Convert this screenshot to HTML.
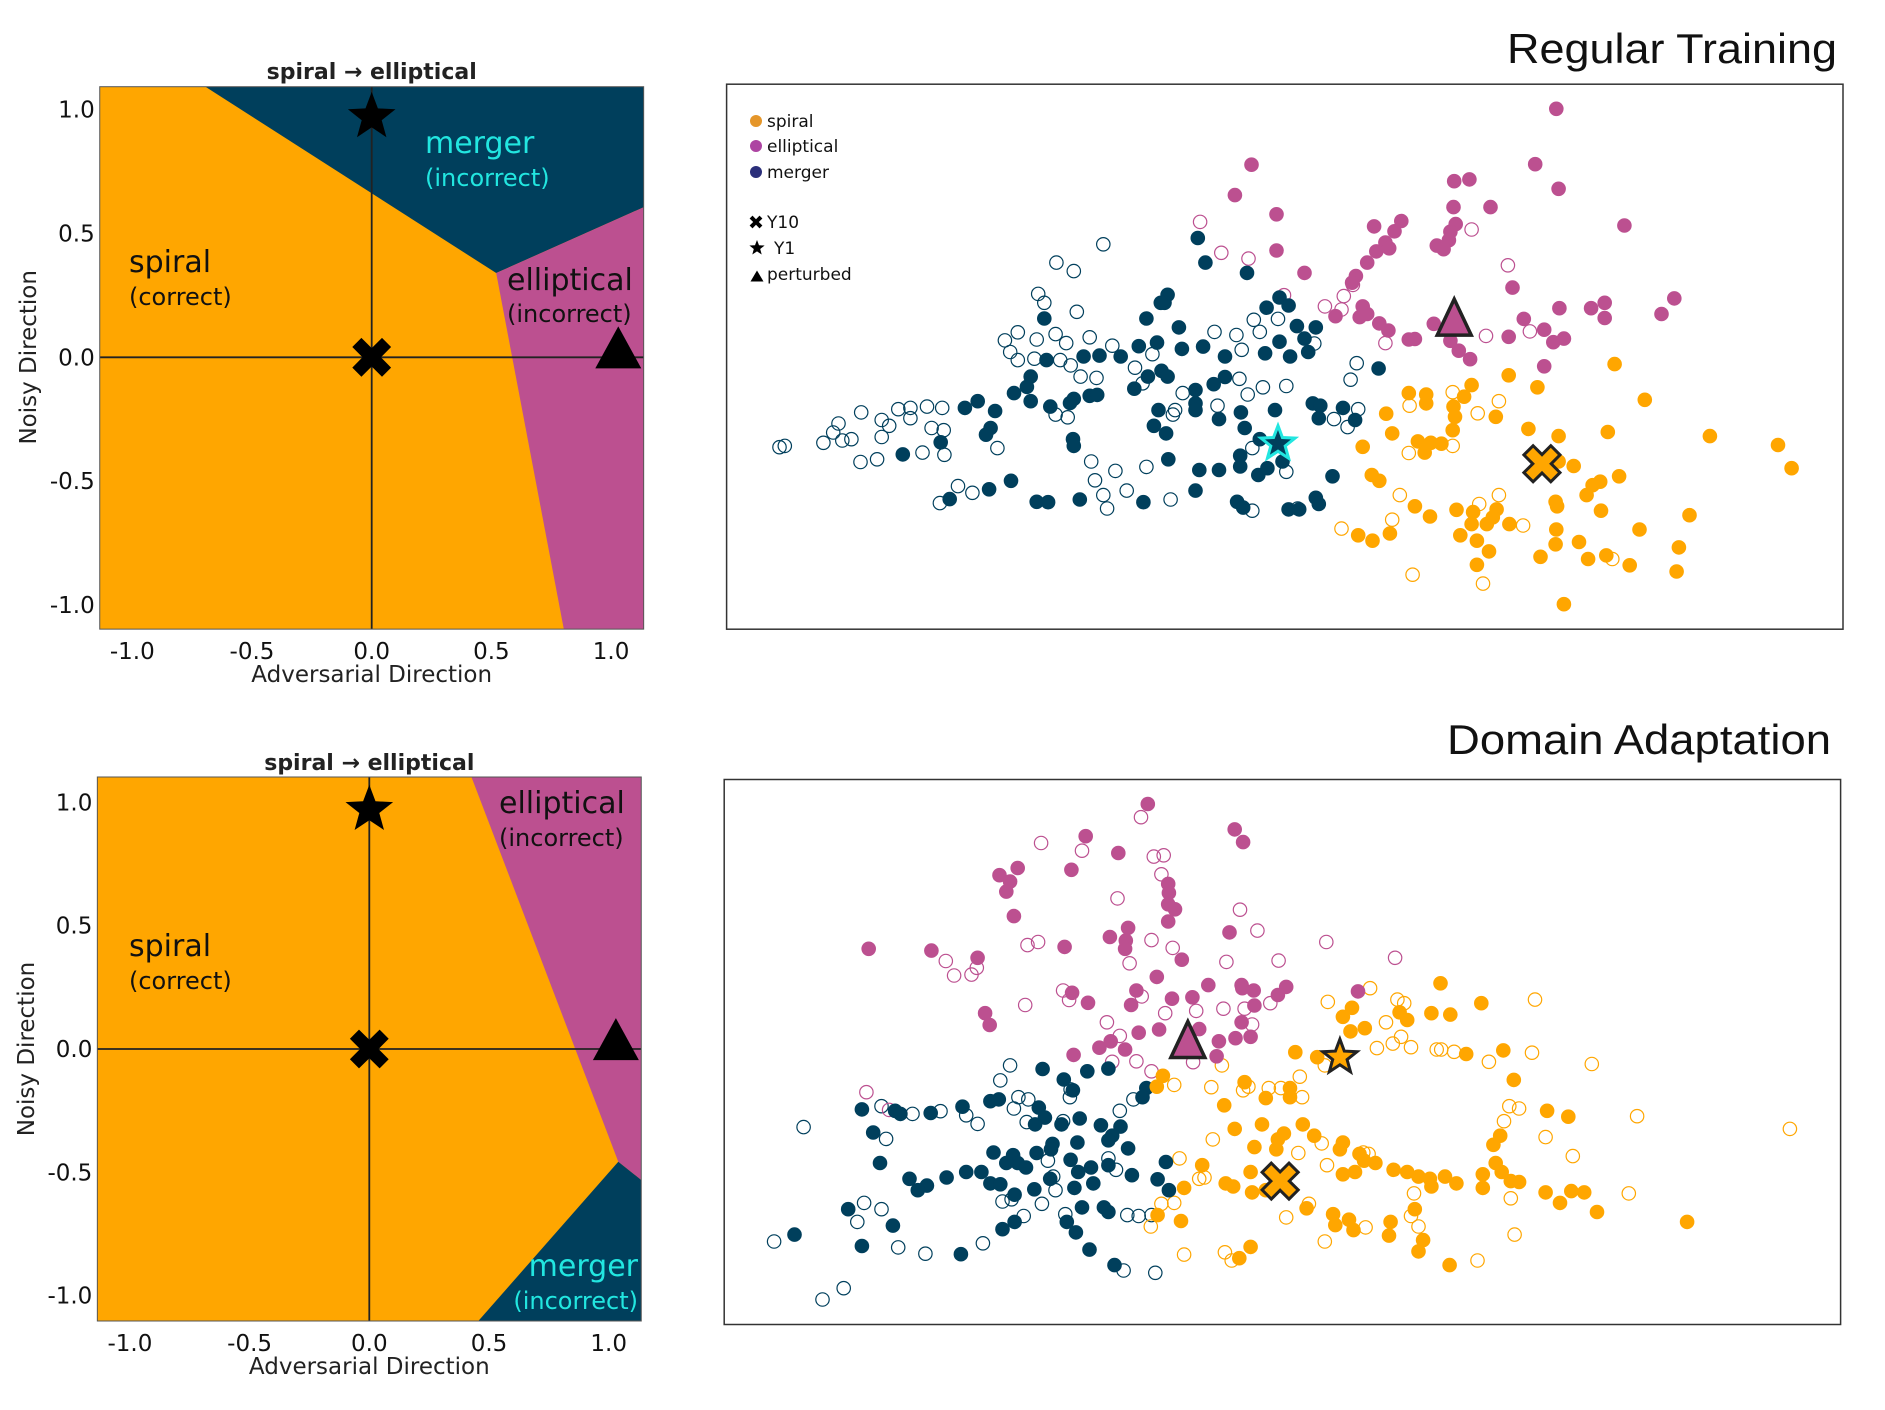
<!DOCTYPE html>
<html><head><meta charset="utf-8"><style>
html,body{margin:0;padding:0;background:#fff;}
svg{display:block;font-family:"DejaVu Sans","Liberation Sans",sans-serif;}
</style></head><body>
<svg id="fig" width="1885" height="1410" viewBox="0 0 1885 1410" xmlns="http://www.w3.org/2000/svg"></svg>
<script>
// ===== Decision region data (left panels, data coords) =====
const tlMergerRegion = [[-0.74,1.12],[1.16,1.12],[1.16,0.616],[0.52,0.34]];
const tlEllipRegion = [[0.52,0.34],[1.16,0.616],[1.16,-1.12],[0.807,-1.12]];
const blEllipRegion = [[0.42,1.12],[1.16,1.12],[1.16,-0.55],[1.04,-0.457]];
const blMergerRegion = [[1.04,-0.457],[1.16,-0.55],[1.16,-1.12],[0.44,-1.12]];
const leftTicks = [-1.0,-0.5,0.0,0.5,1.0];
const leftTickLabels = ["-1.0","-0.5","0.0","0.5","1.0"];
const tlStar=[0,0.97], tlX=[0,0], tlTri=[1.03,0.04];
const blStar=[0,0.97], blX=[0,0], blTri=[1.03,0.04];

// ===== Scatter data: Regular Training (embedding units) =====
const rtEllipFilled=[[1132,246],[729,371],[1104,370],[707,439],[997,408],[1017,404],[1135,425],[762,482],[996,466],[1045,466],[1222,507],[891,509],[927,497],[918,520],[999,504],[992,521],[990,540],[974,552],[983,560],[906,545],[894,565],[911,558],[882,590],[762,563],[799,613],[867,620],[862,635],[1074,646],[876,688],[840,710],[872,712],[882,705],[898,726],[910,742],[937,762],[945,761],[970,727],[992,765],[1003,787],[1018,806],[1069,756],[1089,716],[1116,740],[1128,768],[1142,760],[1116,822],[1136,692],[1178,692],[1196,680],[1196,714],[1271,705],[1288,670]];
const rtEllipOpen=[[661,499],[689,568],[725,581],[1020,516],[1068,596],[772,663],[826,688],[851,665],[863,640],[906,770],[1039,754],[1097,744],[848,695]];
const rtMergerFilled=[[658,535],[668,590],[723,613],[618,662],[614,680],[609,680],[455,715],[590,715],[633,735],[766,668],[778,686],[749,691],[789,732],[814,735],[799,760],[766,767],[804,790],[780,800],[747,793],[637,783],[665,778],[694,800],[580,777],[604,769],[556,800],[507,800],[458,808],[528,798],[897,827],[610,832],[618,845],[592,845],[574,872],[694,846],[679,862],[655,875],[437,845],[432,868],[415,882],[437,900],[463,912],[494,895],[515,888],[525,886],[489,904],[350,915],[367,900],[390,922],[384,960],[378,975],[606,920],[655,905],[655,920],[715,925],[760,920],[686,940],[810,905],[820,910],[818,938],[850,915],[866,942],[600,955],[616,972],[720,960],[740,985],[493,985],[494,1000],[318,992],[268,1019],[619,1030],[660,1054],[686,1054],[714,1022],[714,1046],[738,1065],[750,1050],[770,1035],[836,1068],[411,1078],[382,1097],[330,1119],[445,1125],[460,1126],[502,1120],[586,1126],[655,1100],[710,1125],[718,1138],[778,1142],[792,1142],[814,1116],[818,1130]];
const rtMergerOpen=[[533,549],[471,590],[494,609],[447,660],[455,680],[498,700],[403,764],[420,746],[445,762],[470,750],[484,770],[515,757],[545,776],[410,790],[420,808],[442,805],[476,808],[490,820],[503,845],[524,848],[575,825],[598,795],[638,882],[585,860],[713,850],[744,869],[775,866],[724,885],[684,910],[625,930],[628,920],[470,930],[486,936],[213,925],[262,918],[278,915],[300,912],[320,915],[240,942],[250,955],[278,938],[306,960],[322,965],[183,950],[176,970],[163,993],[188,988],[200,985],[105,1003],[112,1000],[240,980],[212,1036],[234,1030],[294,1015],[323,1020],[393,1005],[517,1035],[549,1056],[522,1077],[590,1047],[533,1110],[538,1140],[564,1100],[622,1120],[730,1145],[341,1090],[360,1105],[317,1128],[730,1005],[775,1058],[790,1140],[868,815],[860,852],[838,940],[856,958],[870,918],[732,718],[764,716],[709,752],[680,745],[716,785],[740,745],[812,771]];
const rtSpiralFilled=[[1209,817],[1069,842],[1107,869],[1020,864],[937,882],[960,885],[960,905],[1010,890],[996,912],[998,935],[907,928],[1052,935],[1249,897],[1095,962],[1200,969],[1135,978],[1335,978],[995,965],[915,972],[949,990],[966,993],[980,995],[958,1015],[876,1002],[1425,998],[1443,1050],[1155,1045],[1135,1035],[888,1065],[898,1078],[1215,1068],[1190,1080],[1180,1088],[1172,1110],[1131,1125],[1133,1135],[1191,1145],[1308,1155],[945,1135],[965,1158],[1000,1143],[1022,1148],[1053,1142],[1048,1160],[1040,1175],[1020,1175],[1070,1175],[1005,1200],[1027,1212],[1043,1236],[870,1200],[889,1212],[912,1196],[1132,1187],[1242,1187],[1111,1248],[1131,1220],[1162,1215],[1174,1253],[1198,1245],[1229,1267],[1294,1227],[1291,1281],[1027,1266],[1142,1354]];
const rtSpiralOpen=[[995,880],[1028,927],[938,910],[1056,900],[937,1016],[925,1110],[1056,1110],[915,1165],[848,1185],[1088,1178],[1030,1130],[1206,1253],[942,1288],[1035,1308],[995,1000]];
const rtTri=[997,712], rtX=[1113,1040], rtStar=[764,995];

// ===== Scatter data: Domain Adaptation =====
const daEllipFilled=[[592,229],[510,300],[553,337],[707,285],[718,313],[420,370],[491,374],[396,386],[410,400],[405,422],[619,405],[620,425],[619,450],[628,461],[415,476],[619,488],[566,502],[542,522],[563,530],[562,548],[700,512],[482,544],[223,548],[306,552],[367,568],[637,572],[604,610],[577,640],[492,645],[513,667],[570,672],[624,658],[651,655],[672,628],[716,628],[732,640],[717,635],[775,632],[764,650],[733,673],[870,642],[377,690],[383,716],[580,733],[607,726],[660,725],[716,710],[686,752],[708,745],[728,742],[528,766],[543,752],[562,770],[494,782],[683,785]];
const daEllipOpen=[[583,258],[451,315],[505,332],[600,345],[613,342],[610,384],[552,437],[714,462],[737,508],[597,529],[625,546],[568,580],[433,540],[447,533],[696,577],[765,574],[828,533],[919,568],[325,575],[336,607],[359,605],[366,590],[480,640],[488,661],[584,653],[430,672],[692,680],[720,680],[754,668],[730,715],[615,690],[656,685],[538,710],[555,740],[577,796],[652,798],[597,818],[220,864],[250,903],[545,797]];
const daMergerFilled=[[453,813],[481,836],[512,818],[540,812],[493,860],[590,855],[585,875],[214,902],[258,905],[265,912],[305,910],[347,896],[384,884],[395,880],[448,898],[456,920],[443,935],[478,935],[502,922],[530,937],[556,940],[545,960],[540,970],[566,988],[499,975],[466,978],[464,990],[229,953],[238,1020],[388,997],[414,1003],[420,1020],[431,1030],[405,1020],[445,998],[463,1055],[490,1013],[500,1040],[520,1065],[517,1030],[495,1075],[540,1025],[571,1047],[605,1056],[616,1018],[620,1080],[277,1055],[300,1070],[288,1080],[326,1052],[352,1040],[372,1040],[384,1065],[397,1067],[416,1090],[442,1078],[196,1122],[255,1158],[125,1178],[214,1203],[345,1221],[400,1166],[416,1150],[485,1150],[497,1173],[515,1211],[548,1245],[534,1118],[505,1118],[540,1128]];
const daMergerOpen=[[410,805],[397,838],[490,858],[489,875],[415,900],[434,880],[421,875],[240,895],[281,912],[318,906],[352,915],[367,934],[137,941],[246,967],[432,930],[480,928],[555,905],[573,880],[460,1015],[467,1050],[452,1110],[470,1080],[400,1105],[412,1100],[428,1137],[540,1010],[550,1035],[217,1108],[208,1150],[240,1122],[262,1206],[298,1220],[374,1197],[98,1193],[190,1296],[162,1321],[560,1257],[602,1262],[565,1135],[580,1137],[597,1135],[483,1133]];
const daSpiralFilled=[[979,624],[1033,668],[967,690],[992,693],[862,678],[850,698],[860,730],[879,723],[925,688],[935,705],[787,776],[816,787],[1013,780],[1062,772],[1076,837],[720,842],[748,877],[693,893],[780,855],[780,875],[612,828],[604,852],[743,935],[707,945],[797,935],[812,960],[764,968],[772,955],[762,990],[733,985],[846,990],[850,975],[872,1000],[878,1015],[893,1020],[917,1035],[935,1040],[950,1050],[965,1055],[985,1050],[967,1072],[1000,1065],[1049,980],[1058,960],[1120,905],[1148,918],[1052,1020],[1060,1040],[1035,1045],[1035,1075],[1072,1060],[1083,1062],[1118,1085],[1137,1108],[1152,1082],[1169,1085],[1186,1128],[1305,1150],[664,1025],[640,1075],[728,1040],[705,1072],[695,1065],[730,1085],[748,1080],[850,1045],[866,1040],[802,1120],[837,1133],[840,1157],[858,1145],[864,1168],[913,1150],[911,1180],[945,1122],[956,1190],[950,1215],[728,1205],[713,1230],[991,1245],[636,1148],[605,1135]];
const daSpiralOpen=[[886,635],[830,665],[922,660],[931,668],[907,710],[916,757],[927,742],[940,765],[895,767],[974,770],[980,770],[997,775],[1043,797],[1100,777],[1104,660],[1179,802],[1239,917],[1441,945],[826,805],[793,830],[690,805],[676,853],[718,860],[725,852],[752,855],[768,855],[796,875],[627,848],[1070,895],[1083,900],[1063,928],[1118,963],[1154,1005],[1228,1087],[678,968],[791,998],[822,977],[829,1025],[877,997],[884,1000],[1072,1098],[944,1087],[940,1137],[950,1160],[1077,1178],[1028,1235],[805,1110],[775,1140],[826,1193],[880,1162],[694,1217],[703,1235],[640,1222],[634,1010],[660,1055],[667,1052],[627,1108],[610,1110],[596,1160]];
const daTri=[645,748], daX=[767,1060], daStar=[846,787];

const ORANGE="#ffa600", PINK="#bc5090", DARK="#003f5c", CYAN="#22e6e0";
const NS="http://www.w3.org/2000/svg";
const svg=document.getElementById('fig');
function mk(tag,attrs,parent){const e=document.createElementNS(NS,tag);for(const k in attrs)e.setAttribute(k,attrs[k]);(parent||svg).appendChild(e);return e;}
function lin(d0,d1,r0,r1){return v=>r0+(v-d0)/(d1-d0)*(r1-r0);}
function starPts(cx,cy,R){const r=R*0.42;let p=[];for(let i=0;i<10;i++){const a=-Math.PI/2+i*Math.PI/5;const rr=i%2?r:R;p.push((cx+rr*Math.cos(a)).toFixed(1)+","+(cy+rr*Math.sin(a)).toFixed(1));}return p.join(" ");}
function crossPath(cx,cy,L,w){const p=[[-w,-L],[w,-L],[w,-w],[L,-w],[L,w],[w,w],[w,L],[-w,L],[-w,w],[-L,w],[-L,-w],[-w,-w]];const c=Math.SQRT1_2;return "M"+p.map(([x,y])=>((cx+(x-y)*c).toFixed(1)+","+(cy+(x+y)*c).toFixed(1))).join("L")+"Z";}
function triPts(cx,cy,w,h){return `${cx},${cy-h/2} ${cx+w/2},${cy+h/2} ${cx-w/2},${cy+h/2}`;}

function leftPanel(cfg){
  const g=mk('g',{});
  
  
  const X=lin(0,1,cfg.x0,cfg.x1), Y=lin(0,1,cfg.y0,cfg.y1);
  const L=X(cfg.xmin),R=X(cfg.xmax),T=Y(cfg.ymax),B=Y(cfg.ymin);
  const cp='clip-'+cfg.name; const cpe=mk('clipPath',{id:cp},g); mk('rect',{x:L,y:T,width:R-L,height:B-T},cpe);
  const bg=mk('rect',{x:L,y:T,width:R-L,height:B-T,fill:ORANGE},g);
  
  cfg.regions.forEach(([pts,col,nm])=>{const p=mk('polygon',{points:pts.map(([a,b])=>X(a)+","+Y(b)).join(" "),fill:col,'clip-path':`url(#${cp})`},g);
    });
  mk('line',{x1:X(0),x2:X(0),y1:T,y2:B,stroke:"#222",'stroke-width':1.8},g);
  mk('line',{x1:L,x2:R,y1:Y(0),y2:Y(0),stroke:"#222",'stroke-width':1.8},g);
  mk('rect',{x:L,y:T,width:R-L,height:B-T,fill:'none',stroke:'#555','stroke-width':1},g);
  leftTicks.forEach((t,i)=>{
    const tx=mk('text',{x:X(t),y:cfg.xTickY,'text-anchor':'middle','font-size':23,fill:'#111'},g);tx.textContent=leftTickLabels[i];
    
    const ty=mk('text',{x:L-5,y:Y(t)+8,'text-anchor':'end','font-size':23,fill:'#111'},g);ty.textContent=leftTickLabels[i];
    
  });
  const tt=mk('text',{x:(L+R)/2,y:cfg.titleY,'text-anchor':'middle','font-size':22,'font-weight':'bold',fill:'#222'},g);tt.textContent="spiral \u2192 elliptical";
  
  const xt=mk('text',{x:(L+R)/2,y:cfg.xTitleY,'text-anchor':'middle','font-size':23,fill:'#222'},g);xt.textContent="Adversarial Direction";
  
  const yt=mk('text',{x:0,y:0,'text-anchor':'middle','font-size':23,fill:'#222',transform:`translate(${cfg.yTitleX},${Y(0)}) rotate(-90)`},g);yt.textContent="Noisy Direction";
  
  cfg.labels.forEach(([txt,x,y,size,col,anchor,nm])=>{const e=mk('text',{x:x,y:y,'font-size':size,fill:col,'text-anchor':anchor},g);e.textContent=txt;
    });
  const s=mk('polygon',{points:starPts(X(cfg.star[0]),Y(cfg.star[1]),25),fill:'#000'},g);
  const x=mk('path',{d:crossPath(X(cfg.x[0]),Y(cfg.x[1]),21,6.5),fill:'#000'},g);
  const tr=mk('polygon',{points:triPts(X(cfg.tri[0]),Y(cfg.tri[1]),46,42),fill:'#000'},g);
}

leftPanel({name:'top-left-decision-map',x0:371.7,x1:371.7+239.4,y0:357.3,y1:357.3-247.8,xmin:-1.136,xmax:1.136,ymin:-1.097,ymax:1.092,
  xTickY:659,xTitleY:682,titleY:79,yTitleX:36,star:tlStar,x:tlX,tri:tlTri,
  regions:[[tlMergerRegion,DARK,'merger-region'],[tlEllipRegion,PINK,'elliptical-region']],
  labels:[["merger",425,153,30,CYAN,'start','merger-label'],["(incorrect)",425,186,24,CYAN,'start','merger-incorrect-label'],
   ["spiral",129,272,30,'#111','start','spiral-label'],["(correct)",129,305,24,'#111','start','spiral-correct-label'],
   ["elliptical",507,290,30,'#111','start','elliptical-label'],["(incorrect)",507,322,24,'#111','start','elliptical-incorrect-label']]});
leftPanel({name:'bottom-left-decision-map',x0:369.3,x1:369.3+239.4,y0:1049,y1:1049-246.6,xmin:-1.136,xmax:1.136,ymin:-1.103,ymax:1.103,
  xTickY:1351,xTitleY:1374,titleY:770,yTitleX:34,star:blStar,x:blX,tri:blTri,
  regions:[[blEllipRegion,PINK,'elliptical-region'],[blMergerRegion,DARK,'merger-region']],
  labels:[["elliptical",499,813,30,'#111','start','elliptical-label'],["(incorrect)",499,846,24,'#111','start','elliptical-incorrect-label'],
   ["spiral",129,956,30,'#111','start','spiral-label'],["(correct)",129,989,24,'#111','start','spiral-correct-label'],
   ["merger",638,1276,30,CYAN,'end','merger-label'],["(incorrect)",638,1309,24,CYAN,'end','merger-incorrect-label']]});

function scatterPanel(cfg){
  const g=mk('g',{});
  
  
  const X=lin(cfg.dx0,cfg.dx1,cfg.L,cfg.R), Y=lin(cfg.dy0,cfg.dy1,cfg.T,cfg.B);
  mk('rect',{x:cfg.L,y:cfg.T,width:cfg.R-cfg.L,height:cfg.B-cfg.T,fill:'#fff',stroke:'#333','stroke-width':1.5},g);
  const r=7.3;
  cfg.sets.forEach(([arr,col,filled,nm])=>{arr.forEach(([a,b])=>{
    const c=mk('circle',{cx:X(a).toFixed(1),cy:Y(b).toFixed(1),r:filled?r:r-0.6,fill:filled?col:'none',stroke:col,'stroke-width':filled?0:1.2},g);
    
    
  });});
  const tr=mk('polygon',{points:triPts(X(cfg.tri[0]),Y(cfg.tri[1]),34,36),fill:PINK,stroke:'#222','stroke-width':3.5,'stroke-linejoin':'miter'},g);
  
  const xm=mk('path',{d:crossPath(X(cfg.x[0]),Y(cfg.x[1]),19,6.5),fill:ORANGE,stroke:'#222','stroke-width':3},g);
  
  const sm=mk('polygon',{points:starPts(X(cfg.star[0]),Y(cfg.star[1]),18),fill:cfg.starFill,stroke:cfg.starStroke,'stroke-width':3},g);
  
  const t=mk('text',{x:cfg.titleX,y:cfg.titleY,'text-anchor':'end','font-size':42,fill:'#111','font-family':'"Liberation Sans",sans-serif',textLength:cfg.titleW,lengthAdjust:'spacingAndGlyphs'},g);
  t.textContent=cfg.title;
}
scatterPanel({name:'regular-training-scatter',L:726.6,R:1843,T:84.2,B:629.2,dx0:35,dx1:1511,dy0:191,dy1:1410,
  sets:[[rtMergerOpen,DARK,false,'merger-open-point'],[rtEllipOpen,PINK,false,'elliptical-open-point'],[rtSpiralOpen,ORANGE,false,'spiral-open-point'],
        [rtMergerFilled,DARK,true,'merger-point'],[rtEllipFilled,PINK,true,'elliptical-point'],[rtSpiralFilled,ORANGE,true,'spiral-point']],
  tri:rtTri,x:rtX,star:rtStar,starFill:DARK,starStroke:CYAN,title:"Regular Training",titleX:1837,titleY:63,titleW:330});
scatterPanel({name:'domain-adaptation-scatter',L:724.2,R:1840.6,T:779.5,B:1324.5,dx0:32,dx1:1508,dy0:175,dy1:1376,
  sets:[[daMergerOpen,DARK,false,'merger-open-point'],[daEllipOpen,PINK,false,'elliptical-open-point'],[daSpiralOpen,ORANGE,false,'spiral-open-point'],
        [daMergerFilled,DARK,true,'merger-point'],[daEllipFilled,PINK,true,'elliptical-point'],[daSpiralFilled,ORANGE,true,'spiral-point']],
  tri:daTri,x:daX,star:daStar,starFill:ORANGE,starStroke:'#222',title:"Domain Adaptation",titleX:1831,titleY:754,titleW:384});

// legend
const lg=mk('g',{});


const legendEntries=[["spiral","dot","#e5962a",121],["elliptical","dot","#ad44a2",146],["merger","dot","#2b2f7a",172],["Y10","x","#000",222],["Y1","star","#000",248],["perturbed","tri","#000",274]];
legendEntries.forEach(([txt,kind,col,y])=>{
  const e=mk('g',{},lg);
  
  
  if(kind==='dot')mk('circle',{cx:756,cy:y,r:6,fill:col},e);
  if(kind==='x')mk('path',{d:crossPath(756,y,7,2),fill:col},e);
  if(kind==='star')mk('polygon',{points:starPts(757,y,8),fill:col},e);
  if(kind==='tri')mk('polygon',{points:triPts(757,y+2,13,11),fill:col},e);
  const t=mk('text',{x:kind==='star'?774:767,y:y+6,'font-size':17,fill:'#111'},e);t.textContent=txt;
});
</script>
</body></html>
